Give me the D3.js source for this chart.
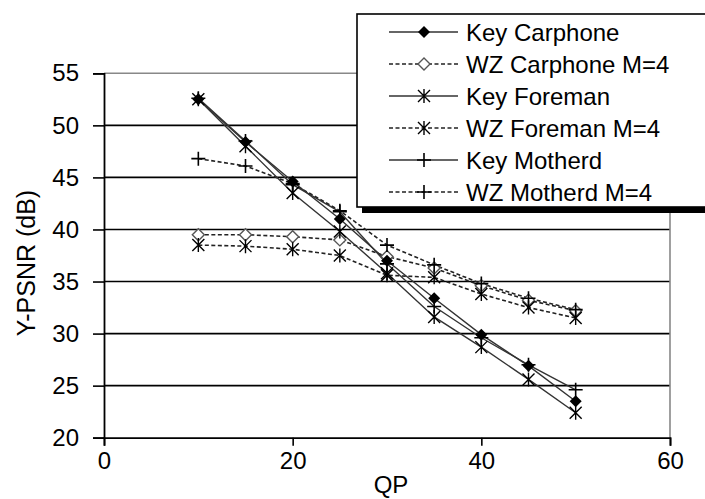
<!DOCTYPE html>
<html><head><meta charset="utf-8">
<script src="https://cdn.jsdelivr.net/npm/d3@7"></script>
<style>body{margin:0;background:#fff}svg{display:block}text{font-family:Arial,"Liberation Sans",sans-serif;fill:#000}</style>
</head><body><div id="chart"></div>
<script>
const qp = [10,15,20,25,30,35,40,45,50];
const keyCarphone = [52.5,48.4,44.6,41.0,37.0,33.4,29.9,26.9,23.5];
const wzCarphone  = [39.5,39.5,39.3,39.0,37.4,36.3,34.6,33.2,32.2];
const keyForeman  = [52.5,48.0,43.5,39.8,35.8,31.6,28.7,25.6,22.4];
const wzForeman   = [38.5,38.4,38.1,37.5,35.6,35.4,33.8,32.5,31.5];
const keyMotherd  = [52.6,48.5,44.3,41.7,36.7,32.6,29.6,27.0,24.6];
const wzMotherd   = [46.8,46.1,44.4,41.8,38.5,36.6,34.8,33.4,32.3];
const xTicks = [0,20,40,60];
const yTicks = [20,25,30,35,40,45,50,55];
const seriesNames = ["Key Carphone","WZ Carphone M=4","Key Foreman","WZ Foreman M=4","Key Motherd","WZ Motherd M=4"];

const series = [
  {name:seriesNames[0], values:keyCarphone, dashed:false, marker:"diamond"},
  {name:seriesNames[1], values:wzCarphone,  dashed:true,  marker:"hdiamond"},
  {name:seriesNames[2], values:keyForeman,  dashed:false, marker:"star"},
  {name:seriesNames[3], values:wzForeman,   dashed:true,  marker:"star"},
  {name:seriesNames[4], values:keyMotherd,  dashed:false, marker:"plus"},
  {name:seriesNames[5], values:wzMotherd,   dashed:true,  marker:"plus"}
];

const W=705,H=499;
const svg=d3.select("#chart").append("svg").attr("width",W).attr("height",H);
const x=d3.scaleLinear().domain([0,60]).range([104,670]);
const y=d3.scaleLinear().domain([20,55]).range([437.7,73.3]);

// gridlines
svg.append("g").selectAll("line").data(yTicks.filter(t=>t>20)).join("line")
  .attr("x1",x(0)).attr("x2",x(60)).attr("y1",d=>y(d)).attr("y2",d=>y(d))
  .attr("stroke",d=>d===55?"#888":"#000").attr("stroke-width",1.6);
// right border
svg.append("line").attr("x1",x(60)).attr("x2",x(60)).attr("y1",y(55)).attr("y2",y(20))
  .attr("stroke","#888").attr("stroke-width",1.6);

// axes
const yAxis=svg.append("g").attr("transform",`translate(${x(0)},0)`)
  .call(d3.axisLeft(y).tickValues(yTicks).tickSize(11).tickPadding(14).tickFormat(d3.format("d")));
const xAxis=svg.append("g").attr("transform",`translate(0,${y(20)})`)
  .call(d3.axisBottom(x).tickValues(xTicks).tickSize(8).tickPadding(6).tickFormat(d3.format("d")));
[yAxis,xAxis].forEach(a=>{
  a.select(".domain").attr("stroke","#000").attr("stroke-width",1.8);
  a.selectAll(".tick line").attr("stroke","#000").attr("stroke-width",1.6);
  a.selectAll("text").style("font-size","24px").attr("fill","#000");
});
xAxis.selectAll("text").attr("dy","0.71em");

// axis titles
svg.append("text").attr("x",391).attr("y",493).attr("text-anchor","middle").style("font-size","24px").text("QP");
svg.append("text").attr("transform","translate(35,263) rotate(-90)").attr("text-anchor","middle").style("font-size","25px").text("Y-PSNR (dB)");

function drawMarker(g,type,cx,cy){
  const s=6;
  if(type==="diamond"){
    g.append("path").attr("d",`M${cx},${cy-s}L${cx+s},${cy}L${cx},${cy+s}L${cx-s},${cy}Z`).attr("fill","#000");
  } else if(type==="hdiamond"){
    g.append("path").attr("d",`M${cx},${cy-s}L${cx+s},${cy}L${cx},${cy+s}L${cx-s},${cy}Z`).attr("fill","#fff").attr("stroke","#555").attr("stroke-width",1.4);
  } else if(type==="star"){
    g.append("path").attr("d",`M${cx},${cy-s-1}V${cy+s+1}M${cx-s},${cy-s}L${cx+s},${cy+s}M${cx+s},${cy-s}L${cx-s},${cy+s}`).attr("stroke","#000").attr("stroke-width",1.4).attr("fill","none");
  } else if(type==="plus"){
    g.append("path").attr("d",`M${cx},${cy-s-1}V${cy+s+1}M${cx-s-1},${cy}H${cx+s+1}`).attr("stroke","#000").attr("stroke-width",1.6).attr("fill","none");
  }
}

const line=d3.line().x((d,i)=>x(qp[i])).y(d=>y(d));
const order=[1,3,5,0,2,4];
order.forEach(k=>{
  const s=series[k];
  svg.append("path").attr("d",line(s.values)).attr("fill","none")
    .attr("stroke",s.dashed?"#222":"#333").attr("stroke-width",s.dashed?1.6:1.4)
    .attr("stroke-dasharray",s.dashed?"4,2.5":null);
});
order.forEach(k=>{
  const s=series[k];
  const g=svg.append("g");
  s.values.forEach((v,i)=>drawMarker(g,s.marker,x(qp[i]),y(v)));
});

// legend
const lg=svg.append("g");
lg.append("rect").attr("x",362).attr("y",19).attr("width",360).attr("height",194).attr("fill","#000");
lg.append("rect").attr("x",357).attr("y",14).attr("width",360).attr("height",193).attr("fill","#fff").attr("stroke","#000").attr("stroke-width",1.6);
series.forEach((s,i)=>{
  const cy=32+i*32;
  lg.append("line").attr("x1",389).attr("x2",458).attr("y1",cy).attr("y2",cy)
    .attr("stroke",s.dashed?"#222":"#333").attr("stroke-width",1.6)
    .attr("stroke-dasharray",s.dashed?"4,2.5":null);
  drawMarker(lg,s.marker,424,cy);
  lg.append("text").attr("x",466).attr("y",cy+8.5).style("font-size","24px").text(s.name);
});
</script></body></html>
